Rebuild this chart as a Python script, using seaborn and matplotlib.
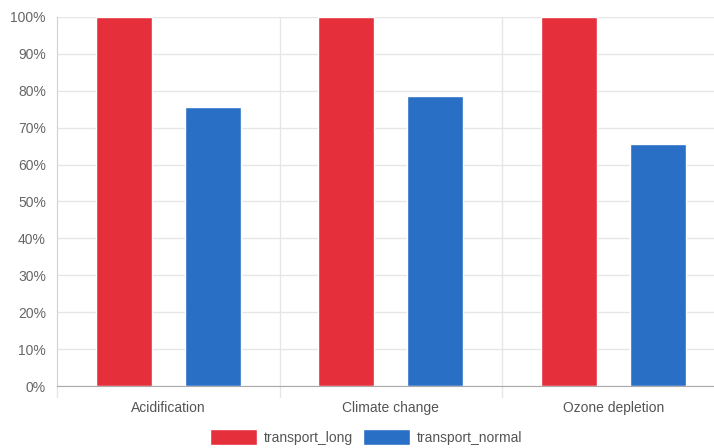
import numpy as np
import pandas as pd
import matplotlib
matplotlib.use("Agg")
import matplotlib.pyplot as plt
import seaborn as sns
from matplotlib.ticker import FuncFormatter

categories = ["Acidification", "Climate change", "Ozone depletion"]
transport_long = [100, 100, 100]
transport_normal = [75.6, 78.6, 65.6]
series_names = ["transport_long", "transport_normal"]
palette = ["#e52f3a", "#2a6fc6"]

df = pd.DataFrame({
    "category": categories * 2,
    "series": [series_names[0]] * 3 + [series_names[1]] * 3,
    "value": transport_long + transport_normal,
})

sns.set_style("white")
plt.rcParams["font.family"] = ["Liberation Sans", "DejaVu Sans"]

fig = plt.figure(figsize=(7.14, 4.48), dpi=100)
ax = fig.add_axes([57 / 714, 1 - 386 / 448, 667.5 / 714, 369 / 448])

sns.barplot(data=df, x="category", y="value", hue="series", palette=palette,
            width=0.8, gap=0.375, saturation=1, ax=ax, legend=True)

ax.set_ylim(0, 100)
ax.set_xlim(-0.5, 2.5)
ax.set_yticks(np.arange(0, 101, 10))
ax.yaxis.set_major_formatter(FuncFormatter(lambda v, p: f"{int(v)}%"))
ax.set_xlabel("")
ax.set_ylabel("")

# horizontal grid
ax.grid(axis="y", color="#e6e6e6", linewidth=1)
ax.set_axisbelow(True)
# vertical separators between categories
for xb in [0.5, 1.5, 2.5]:
    ax.axvline(xb, color="#e6e6e6", linewidth=1, zorder=0)
    ax.plot([xb, xb], [0, -3], color="#e6e6e6", linewidth=1, clip_on=False)
ax.plot([-0.5, -0.5], [0, -3], color="#e6e6e6", linewidth=1, clip_on=False)

for s in ["top", "right"]:
    ax.spines[s].set_visible(False)
ax.spines["left"].set_color("#d0d0d0")
ax.spines["bottom"].set_color("#aaaaaa")

ax.tick_params(axis="y", length=6, color="#e6e6e6", labelsize=10, labelcolor="#666666", pad=2)
ax.tick_params(axis="x", length=0, labelsize=10, labelcolor="#555555", pad=11)

handles, labels = ax.get_legend_handles_labels()
ax.get_legend().remove()
fig.legend(handles, labels, loc="center", bbox_to_anchor=(366 / 714, 1 - 437 / 448),
           ncol=2, frameon=False, fontsize=10, handlelength=3.4, handleheight=1.5,
           handletextpad=0.5, columnspacing=0.7, labelcolor="#555555",
           borderpad=0, borderaxespad=0)

fig.savefig("out.png", dpi=100)
